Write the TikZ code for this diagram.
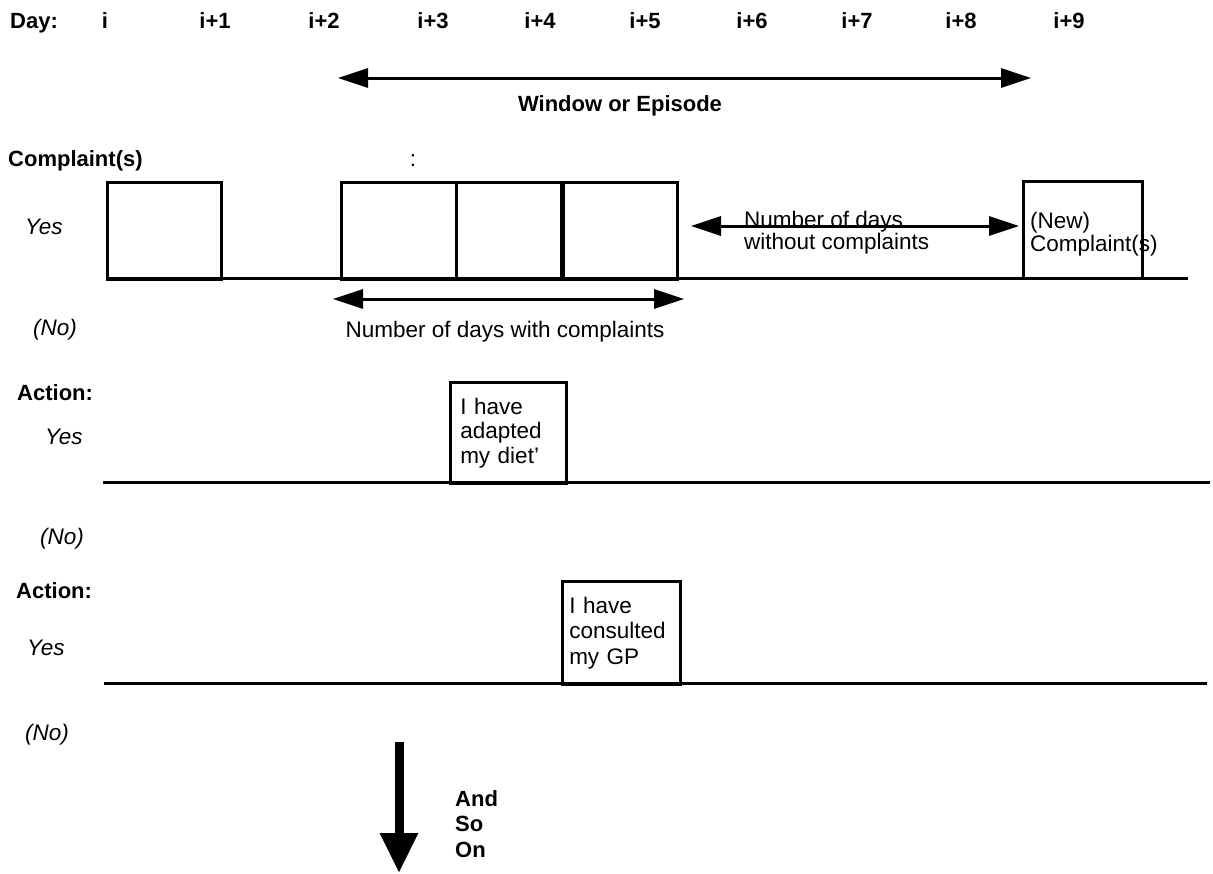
\documentclass[tikz,border=0pt]{standalone}
\usepackage{fontspec}
\setmainfont{Liberation Sans}
\usetikzlibrary{arrows.meta}
\begin{document}
\begin{tikzpicture}[x=1pt,y=-1pt,
  txt/.style={inner sep=0pt, anchor=base west, font=\fontsize{22.5}{25}\selectfont},
  btxt/.style={inner sep=0pt, anchor=base west, font=\fontsize{22}{25}\selectfont\bfseries},
  itxt/.style={inner sep=0pt, anchor=base west, font=\fontsize{22.5}{25}\selectfont\itshape},
  daybox/.style={draw, line width=2.5pt, inner sep=0pt, anchor=north west},
  actbox/.style={draw, line width=2.5pt, anchor=north west, align=left,
    font=\fontsize{22.5}{24.5}\selectfont, inner ysep=0pt},
  axis/.style={line width=3pt},
  divider/.style={line width=4pt},
  dimarrow/.style={line width=3pt, {Triangle[length=30pt,width=19pt]}-{Triangle[length=30pt,width=19pt]}},
  downarrow/.style={line width=9pt, -{Triangle[length=40pt,width=36pt]}},
]
\useasboundingbox (0,0) rectangle (1213,873);

% header
\node[btxt] (day) at (10,28) {Day:};
\node[btxt, anchor=base] (d0) at (105,28) {i};
\node[btxt, anchor=base] (d1) at (215,28) {i+1};
\node[btxt, anchor=base] (d2) at (324,28) {i+2};
\node[btxt, anchor=base] (d3) at (433,28) {i+3};
\node[btxt, anchor=base] (d4) at (540,28) {i+4};
\node[btxt, anchor=base] (d5) at (645,28) {i+5};
\node[btxt, anchor=base] (d6) at (752,28) {i+6};
\node[btxt, anchor=base] (d7) at (857,28) {i+7};
\node[btxt, anchor=base] (d8) at (961,28) {i+8};
\node[btxt, anchor=base] (d9) at (1069,28) {i+9};

% window arrow
\coordinate (w1) at (338,78);
\coordinate (w2) at (1031,78);
\draw[dimarrow] (w1) -- (w2);
\node[btxt, anchor=base] (wlab) at (620,111) {Window or Episode};

% complaints row
\node[btxt] (clab) at (8,166) {Complaint(s)};
\node[txt, anchor=base] (colon) at (413,166) {:};
\node[itxt] (cyes) at (25,234) {Yes};
\node[itxt] (cno) at (33,335) {(No)};

\coordinate (cl0) at (106,278);
\coordinate (cl1) at (1188,278);
\draw[axis] (cl0) -- (cl1);
\node[daybox, minimum width=114pt, minimum height=97pt] (b1) at (106,181) {};
\node[daybox, minimum width=115pt, minimum height=97pt] (b3) at (340,181) {};
\node[daybox, minimum width=107pt, minimum height=97pt] (b4) at (455,181) {};
\node[daybox, minimum width=114pt, minimum height=97pt] (b5) at (562,181) {};
\draw[divider] (b5.north west) -- (b5.south west);
\node[daybox, minimum width=119pt, minimum height=97pt] (b10) at (1022,180) {};
\node[txt] (newl) at (1030,228) {(New)};
\node[txt] (newc) at (1030,251) {Complaint(s)};

% without complaints arrow
\coordinate (nw1) at (691,226);
\coordinate (nw2) at (1019,226);
\draw[dimarrow] (nw1) -- (nw2);
\node[txt] (nwl1) at (744,227) {Number of days};
\node[txt] (nwl2) at (744,249) {without complaints};

% with complaints arrow
\coordinate (wc1) at (333,299);
\coordinate (wc2) at (684,299);
\draw[dimarrow] (wc1) -- (wc2);
\node[txt, anchor=base] (wclab) at (505,337) {Number of days with complaints};

% action 1
\node[btxt] (a1lab) at (17,400) {Action:};
\node[itxt] (a1yes) at (45,444) {Yes};
\node[itxt] (a1no) at (40,544) {(No)};
\coordinate (a1l0) at (103,482);
\coordinate (a1l1) at (1210,482);
\draw[axis] (a1l0) -- (a1l1);
\node[actbox, minimum width=116pt, minimum height=101pt, text width=96pt, inner xsep=10pt] (act1) at (449,381) {I have\\adapted\\my diet'};

% action 2
\node[btxt] (a2lab) at (16,598) {Action:};
\node[itxt] (a2yes) at (27,655) {Yes};
\node[itxt] (a2no) at (25,740) {(No)};
\coordinate (a2l0) at (104,683);
\coordinate (a2l1) at (1207,683);
\draw[axis] (a2l0) -- (a2l1);
\node[actbox, minimum width=118pt, minimum height=103pt, text width=104pt, inner xsep=7pt, font=\fontsize{22.5}{25.5}\selectfont] (act2) at (561,580) {I have\\consulted\\my GP};

% and so on
\coordinate (dn0) at (399,742);
\coordinate (dn1) at (399,873);
\draw[downarrow] (dn0) -- (dn1);
\node[btxt] (and) at (455,806) {And};
\node[btxt] (so) at (455,831) {So};
\node[btxt] (on) at (455,857) {On};
\end{tikzpicture}
\end{document}
